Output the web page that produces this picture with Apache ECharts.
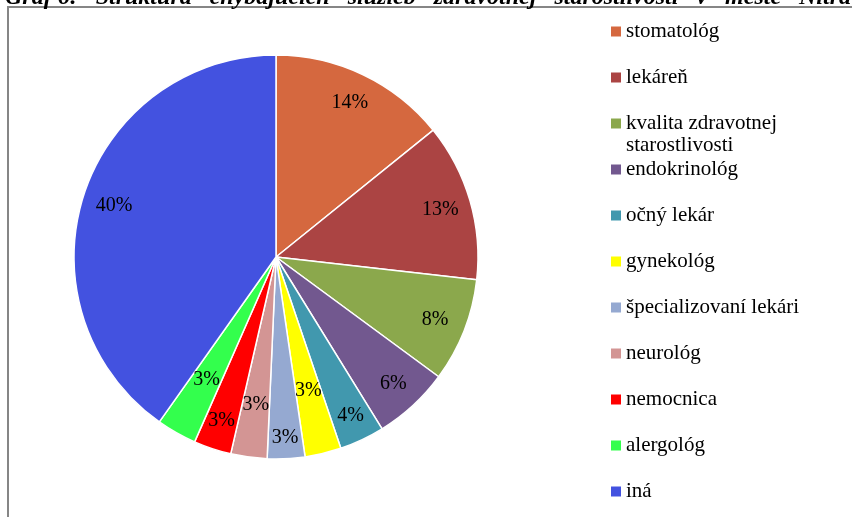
<!DOCTYPE html>
<html>
<head>
<meta charset="utf-8">
<script src="https://cdn.jsdelivr.net/npm/echarts@6/dist/echarts.min.js"></script>
<style>html,body{margin:0;padding:0;background:#fff}#c{width:852px;height:517px}</style>
</head>
<body>
<div id="c"></div>
<script>
const titleText = 'Graf 6: Štruktúra chýbajúcich služieb zdravotnej starostlivosti v meste Nitra';
const categories = ['stomatológ','lekáreň','kvalita zdravotnej starostlivosti','endokrinológ','očný lekár','gynekológ','špecializovaní lekári','neurológ','nemocnica','alergológ','iná'];
const values = [14.2, 12.6, 8.3, 6.1, 3.6, 2.9, 3.0, 2.9, 3.0, 3.2, 40.2];
const colors = ['#D5683F','#AB4443','#8BA84C','#72588F','#4198AE','#FFFF00','#95A9D1','#D39594','#FF0000','#33FF4D','#4352E0'];
// distance of each percentage label from the pie centre (style)
const labelRadius = [168, 168, 168, 170, 172, 135, 178, 146, 170, 138, 167];

const font = 'Liberation Serif';
const labelFmt = p => Math.round(p.value) + '%';
const longName = 'kvalita zdravotnej starostlivosti';

const base = categories.map((n,i)=>({name:n,value:values[i],itemStyle:{color:colors[i]}}));

const ringSet = Array.from(new Set(labelRadius));
const labelSeriesList = ringSet.map(r => ({
  type:'pie', center:[276,257], radius:[r-20, r+20], startAngle:90, clockwise:true,
  silent:true, animation:false, legendHoverLink:false,
  itemStyle:{color:'rgba(0,0,0,0)', borderWidth:0},
  label:{position:'inside', formatter:labelFmt, color:'#000', fontSize:20, fontFamily:font, padding:[7,0,0,0]},
  labelLine:{show:false},
  emphasis:{disabled:true},
  data:categories.map((n,i)=>({name:n, value:values[i], label:{show:labelRadius[i]===r}}))
}));

// justified caption: wider word gaps after the "Graf 6:" prefix
const tw = titleText.split(' ');
const spaced = tw.slice(0,2).join(' ') + '\u2002 ' + tw.slice(2).join(' \u2002');
const words = longName.split(' ');

const chart = echarts.init(document.getElementById('c'), null, {renderer:'canvas'});
chart.setOption({
  animation:false,
  backgroundColor:'#fff',
  title:{
    text:spaced, left:5, top:-14, padding:0,
    textStyle:{fontFamily:font, fontSize:24, fontWeight:'bold', fontStyle:'italic', color:'#000'}
  },
  graphic:[
    {
      type:'rect', shape:{x:8, y:7, width:900, height:600}, z:-1,
      style:{fill:'none', stroke:'#868686', lineWidth:2}
    },
    {
      type:'text', left:626, top:135,
      style:{text:words.slice(2).join(' '), font:'21px "Liberation Serif"', fill:'#000'}
    }
  ],
  legend:{
    orient:'vertical', left:611, top:20, height:497, padding:0,
    itemWidth:10, itemHeight:10, itemGap:23,
    icon:'rect',
    itemStyle:{borderWidth:0},
    formatter: n => n === longName ? words.slice(0,2).join(' ') : n,
    textStyle:{fontFamily:font, fontSize:21, lineHeight:23, color:'#000'},
    data:categories
  },
  series:[
    {
      type:'pie', center:[276,257], radius:[0,202], startAngle:90, clockwise:true,
      animation:false,
      itemStyle:{borderColor:'#fff', borderWidth:1.5},
      label:{show:false}, labelLine:{show:false},
      data:base
    }
  ].concat(labelSeriesList)
});
</script>
</body>
</html>
